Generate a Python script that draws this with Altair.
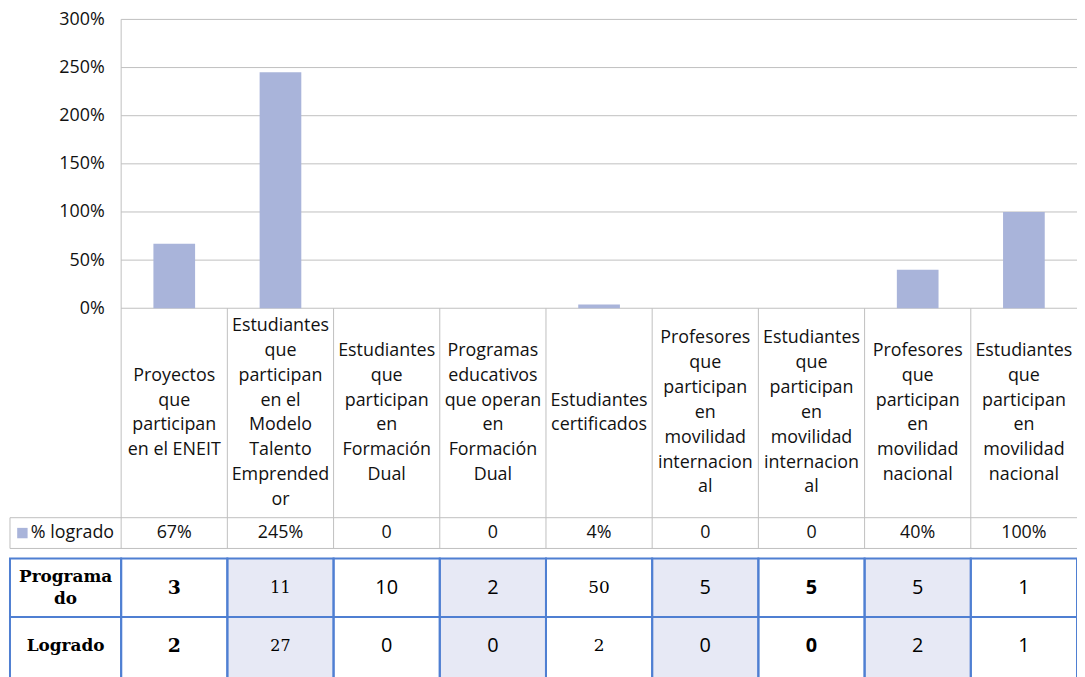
import altair as alt
import pandas as pd

# ---------------- data ----------------
CATEGORIES = [
    "Proyectos\nque\nparticipan\nen el ENEIT",
    "Estudiantes\nque\nparticipan\nen el\nModelo\nTalento\nEmprended\nor",
    "Estudiantes\nque\nparticipan\nen\nFormación\nDual",
    "Programas\neducativos\nque operan\nen\nFormación\nDual",
    "Estudiantes\ncertificados",
    "Profesores\nque\nparticipan\nen\nmovilidad\ninternacion\nal",
    "Estudiantes\nque\nparticipan\nen\nmovilidad\ninternacion\nal",
    "Profesores\nque\nparticipan\nen\nmovilidad\nnacional",
    "Estudiantes\nque\nparticipan\nen\nmovilidad\nnacional",
]
SERIES_NAME = "% logrado"
PCT_LOGRADO = [0.67, 2.45, 0.0, 0.0, 0.04, 0.0, 0.0, 0.40, 1.00]
PCT_LABELS = ["67%", "245%", "0", "0", "4%", "0", "0", "40%", "100%"]
ROW_NAMES = ["Programa\ndo", "Logrado"]
PROGRAMADO = [3, 11, 10, 2, 50, 5, 5, 5, 1]
LOGRADO = [2, 27, 0, 0, 2, 0, 0, 2, 1]
Y_TICKS = [0, 0.5, 1.0, 1.5, 2.0, 2.5, 3.0]

# ---------------- layout / style ----------------
TOP = 9                     # plot top offset inside the svg
W, H = 1075, 660            # plot area (whole figure region)
COL_PX = 107.0              # width of one category column in px
X0 = -112.0 / COL_PX        # left edge of the legend / label column (column units)
N = len(CATEGORIES)
BAR_FRAC = 42.0 / COL_PX
CHART_BOTTOM = 291          # px from plot top where 0% sits
Y_LO = -3.0 * (H - CHART_BOTTOM) / CHART_BOTTOM
ROW_LABEL = (291, 502)
ROW_PCT = (502, 533)
ROW_PROG = (543, 602)
ROW_LOG = (602, 666)
VISIBLE_BOTTOM = 660
LH = 25                     # line height of wrapped labels

BAR = "#A9B4DA"
GRAY = "#BFBFBF"
BLUE = "#4F7FD2"
SHADE = "#E7E9F5"
SANS = "Open Sans"
SERIF = "DejaVu Serif"
COL_STYLE = ["serif_bold", "serif_small", "sans", "sans", "serif", "sans", "sans_bold", "sans", "sans"]
STYLES = {
    "serif_bold": dict(font=SERIF, fontSize=19, fontWeight="bold"),
    "serif_small": dict(font=SERIF, fontSize=16, fontWeight="normal"),
    "serif": dict(font=SERIF, fontSize=17, fontWeight="normal"),
    "sans": dict(font=SANS, fontSize=20, fontWeight="normal"),
    "sans_bold": dict(font=SANS, fontSize=20, fontWeight="bold"),
}

xs = alt.Scale(domain=[X0, N], nice=False, zero=False)
ys_bar = alt.Scale(domain=[Y_LO, 3], nice=False, zero=False)
ys_tab = alt.Scale(domain=[0, H], nice=False, zero=False, reverse=True)


def X(f):
    return alt.X(f"{f}:Q", scale=xs, axis=None)


def YT(f):
    return alt.Y(f"{f}:Q", scale=ys_tab, axis=None)


def first_line_y(center, text, lh):
    n = text.count("\n") + 1
    return center - (n - 1) / 2 * lh


# bars
bar_df = pd.DataFrame({
    "x0": [i + (1 - BAR_FRAC) / 2 for i in range(N)],
    "x1": [i + (1 + BAR_FRAC) / 2 for i in range(N)],
    "pct": PCT_LOGRADO,
    "base": [0] * N,
})

grid_df = pd.DataFrame({"t": Y_TICKS, "xa": [0] * len(Y_TICKS), "xb": [N] * len(Y_TICKS)})

grid = alt.Chart(grid_df).mark_rule(color=GRAY, strokeWidth=1).encode(
    x=X("xa"), x2=alt.X2("xb"), y=alt.Y("t:Q", scale=ys_bar, axis=None)
)

bars = alt.Chart(bar_df).mark_bar(color=BAR).encode(
    x=X("x0"), x2=alt.X2("x1"),
    y=alt.Y("pct:Q", scale=ys_bar, axis=alt.Axis(
        orient="left", values=Y_TICKS, format=".0%", offset=-112, domain=False,
        ticks=False, grid=False, labelPadding=17, labelFont=SANS, labelFontSize=18,
        labelColor="#111111", labelOverlap=False, title=None)),
    y2=alt.Y2("base"),
)

# table 1 grid lines (gray)
lines = []
lines.append(dict(x=0, x2=0, y=0, y2=ROW_PCT[1]))
for i in range(1, N):
    lines.append(dict(x=i, x2=i, y=ROW_LABEL[0], y2=ROW_PCT[1]))
lines.append(dict(x=X0, x2=X0, y=ROW_PCT[0], y2=ROW_PCT[1]))
for yy in (ROW_PCT[0], ROW_PCT[1]):
    lines.append(dict(x=X0, x2=N, y=yy, y2=yy))
lines_df = pd.DataFrame(lines)
t1_lines = alt.Chart(lines_df).mark_rule(color=GRAY, strokeWidth=1).encode(
    x=X("x"), x2=alt.X2("x2"), y=YT("y"), y2=alt.Y2("y2")
)

# category labels
label_center = (ROW_LABEL[0] + ROW_LABEL[1]) / 2
cat_df = pd.DataFrame({
    "x": [i + 0.5 for i in range(N)],
    "y": [first_line_y(label_center, c, LH) for c in CATEGORIES],
    "label": CATEGORIES,
})
cat_text = alt.Chart(cat_df).mark_text(
    font=SANS, fontSize=18, lineBreak="\n", lineHeight=LH, color="#111111",
    align="center", baseline="middle"
).encode(x=X("x"), y=YT("y"), text="label:N")

pct_df = pd.DataFrame({
    "x": [i + 0.5 for i in range(N)],
    "y": [(ROW_PCT[0] + ROW_PCT[1]) / 2] * N,
    "label": PCT_LABELS,
})
pct_text = alt.Chart(pct_df).mark_text(
    font=SANS, fontSize=18, color="#111111", align="center", baseline="middle"
).encode(x=X("x"), y=YT("y"), text="label:N")

leg_y = (ROW_PCT[0] + ROW_PCT[1]) / 2
leg_sq_df = pd.DataFrame({"x": [(22.5 - 122) / COL_PX], "y": [leg_y]})
leg_sq = alt.Chart(leg_sq_df).mark_square(size=110, color=BAR, opacity=1).encode(
    x=X("x"), y=YT("y")
)
leg_tx_df = pd.DataFrame({"x": [(31 - 122) / COL_PX], "y": [leg_y], "label": [SERIES_NAME]})
leg_tx = alt.Chart(leg_tx_df).mark_text(
    font=SANS, fontSize=18, color="#111111", align="left", baseline="middle"
).encode(x=X("x"), y=YT("y"), text="label:N")

# table 2 cells
rows = [ROW_PROG, ROW_LOG]
cells = []
for r in rows:
    cells.append(dict(x=X0, x2=0, y=r[0], y2=r[1], fill="#FFFFFF"))
    for i in range(N):
        cells.append(dict(x=i, x2=i + 1, y=r[0], y2=r[1], fill=SHADE if i % 2 == 1 else "#FFFFFF"))
cells_df = pd.DataFrame(cells)
cell_fill = alt.Chart(cells_df).mark_rect().encode(
    x=X("x"), x2=alt.X2("x2"), y=YT("y"), y2=alt.Y2("y2"),
    color=alt.Color("fill:N", scale=None)
)
cell_border = alt.Chart(cells_df).mark_rect(fillOpacity=0, stroke=BLUE, strokeWidth=2).encode(
    x=X("x"), x2=alt.X2("x2"), y=YT("y"), y2=alt.Y2("y2")
)

prog_center = (ROW_PROG[0] + ROW_PROG[1]) / 2
log_center = (ROW_LOG[0] + VISIBLE_BOTTOM) / 2
ROW_LH = 22
row_df = pd.DataFrame({
    "x": [X0 / 2, X0 / 2],
    "y": [first_line_y(prog_center, ROW_NAMES[0], ROW_LH), first_line_y(log_center, ROW_NAMES[1], ROW_LH)],
    "label": ROW_NAMES,
})
row_text = alt.Chart(row_df).mark_text(
    font=SERIF, fontSize=17, fontWeight="bold", lineBreak="\n", lineHeight=ROW_LH,
    color="#000000", align="center", baseline="middle"
).encode(x=X("x"), y=YT("y"), text="label:N")

vals = []
for i in range(N):
    vals.append(dict(x=i + 0.5, y=prog_center, label=str(PROGRAMADO[i]), style=COL_STYLE[i]))
    vals.append(dict(x=i + 0.5, y=log_center, label=str(LOGRADO[i]), style=COL_STYLE[i]))
vals_df = pd.DataFrame(vals)
val_layers = []
for key, st in STYLES.items():
    val_layers.append(
        alt.Chart(vals_df).transform_filter(alt.datum.style == key).mark_text(
            color="#000000", align="center", baseline="middle", **st
        ).encode(x=X("x"), y=YT("y"), text="label:N")
    )

chart = alt.layer(
    grid, bars, t1_lines, cat_text, pct_text, leg_sq, leg_tx,
    cell_fill, cell_border, row_text, *val_layers
).resolve_scale(y="independent").properties(
    width=W, height=H,
    padding={"left": 2, "top": TOP, "right": 0, "bottom": 0},
    autosize=alt.AutoSizeParams(type="none"),
    background="white",
).configure_view(stroke=None)

chart.save("out.html", embed_options={"renderer": "svg", "actions": False})
